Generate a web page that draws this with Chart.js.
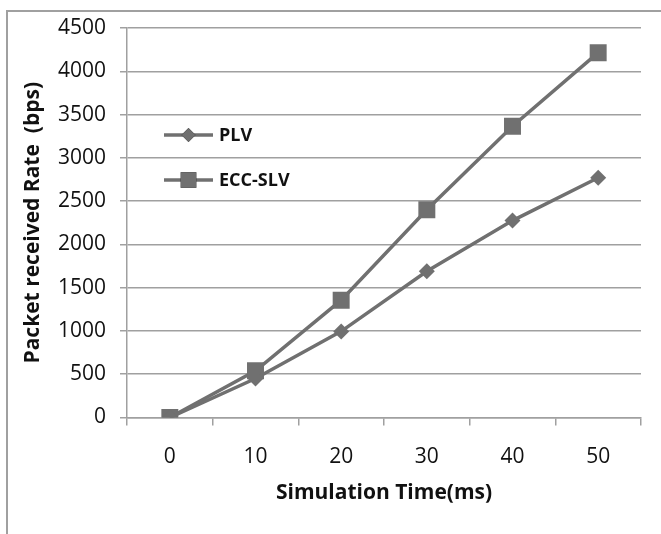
<!DOCTYPE html>
<html>
<head>
<meta charset="utf-8">
<script src="https://cdn.jsdelivr.net/npm/chart.js@4"></script>
<style>
  html, body { margin: 0; padding: 0; background: #fff; overflow: hidden; }
  #wrap { position: relative; width: 661px; height: 534px; }
  #frame { position: absolute; left: 6px; top: 10px; width: 700px; height: 600px; border: 2px solid #a0a0a0; box-sizing: border-box; }
  canvas#rate { position: absolute; left: 0; top: 0; }
</style>
</head>
<body>
<div id="wrap">
  <div id="frame"></div>
  <canvas id="rate" width="661" height="534"></canvas>
</div>
<script>
const times = ['0', '10', '20', '30', '40', '50'];
const plv = [0, 450, 995, 1690, 2275, 2770];
const eccSlv = [0, 540, 1355, 2400, 3365, 4215];

const lineGray = '#707070';
const gridGray = '#a0a0a0';

// legend sits inside the plot, like the original
const innerLegend = {
    id: 'innerLegend',
    afterDraw(chart) {
        const ctx = chart.ctx;
        const a = chart.chartArea;
        const rows = [a.top + 107, a.top + 152];
        chart.data.datasets.forEach((ds, i) => {
            const y = rows[i];
            const x0 = a.left + 37, x1 = a.left + 86;
            ctx.save();
            ctx.strokeStyle = ds.borderColor;
            ctx.lineWidth = 3.5;
            ctx.beginPath();
            ctx.moveTo(x0, y);
            ctx.lineTo(x1, y);
            ctx.stroke();
            Chart.helpers.drawPoint(ctx, {
                pointStyle: ds.pointStyle,
                radius: ds.legendRadius,
                borderWidth: 0
            }, (x0 + x1) / 2, y);
            ctx.fillStyle = ds.backgroundColor;
            ctx.fill();
            ctx.fillStyle = '#111';
            ctx.font = 'bold 18px "Open Sans"';
            ctx.textBaseline = 'middle';
            ctx.fillText(ds.label, x1 + 6, y + 1);
            ctx.restore();
        });
    }
};

new Chart(document.getElementById('rate'), {
    type: 'line',
    data: {
        labels: times,
        datasets: [{
            label: 'PLV',
            data: plv,
            borderColor: lineGray,
            backgroundColor: lineGray,
            borderWidth: 3.5,
            pointStyle: 'rectRot',
            pointRadius: 8,
            legendRadius: 7,
            pointBorderWidth: 0,
            tension: 0
        }, {
            label: 'ECC-SLV',
            data: eccSlv,
            borderColor: lineGray,
            backgroundColor: lineGray,
            borderWidth: 3.5,
            pointStyle: 'rect',
            pointRadius: 12,
            legendRadius: 11,
            pointBorderWidth: 0,
            tension: 0
        }]
    },
    options: {
        responsive: false,
        animation: false,
        layout: { padding: { left: 0, right: 20, top: 28, bottom: 0 } },
        plugins: {
            legend: { display: false },
            tooltip: { enabled: false }
        },
        scales: {
            x: {
                offset: true,
                afterFit(scale) { scale.height = 116.5; },
                grid: {
                    offset: true,
                    drawOnChartArea: false,
                    drawTicks: true,
                    tickLength: 8,
                    color: gridGray,
                    lineWidth: 1.5
                },
                border: { color: gridGray, width: 1.5 },
                ticks: {
                    color: '#111',
                    padding: 19,
                    font: { family: '"Open Sans"', size: 21 }
                },
                title: {
                    display: true,
                    text: 'Simulation Time(ms)',
                    color: '#111',
                    padding: { top: 6, bottom: 28 },
                    font: { family: '"Open Sans"', size: 21, weight: 'bold' }
                }
            },
            y: {
                min: 0,
                max: 4500,
                afterFit(scale) { scale.width = 127; },
                grid: {
                    color: gridGray,
                    lineWidth: 1.5,
                    tickLength: 7
                },
                border: { color: gridGray, width: 1.5 },
                ticks: {
                    stepSize: 500,
                    color: '#111',
                    padding: 14,
                    font: { family: '"Open Sans"', size: 21 },
                    callback: (v) => String(v)
                },
                title: {
                    display: true,
                    text: 'Packet received Rate  (bps)',
                    color: '#111',
                    padding: { top: 20, bottom: 4 },
                    font: { family: '"Open Sans"', size: 21, weight: 'bold' }
                }
            }
        }
    },
    plugins: [innerLegend]
});
</script>
</body>
</html>
